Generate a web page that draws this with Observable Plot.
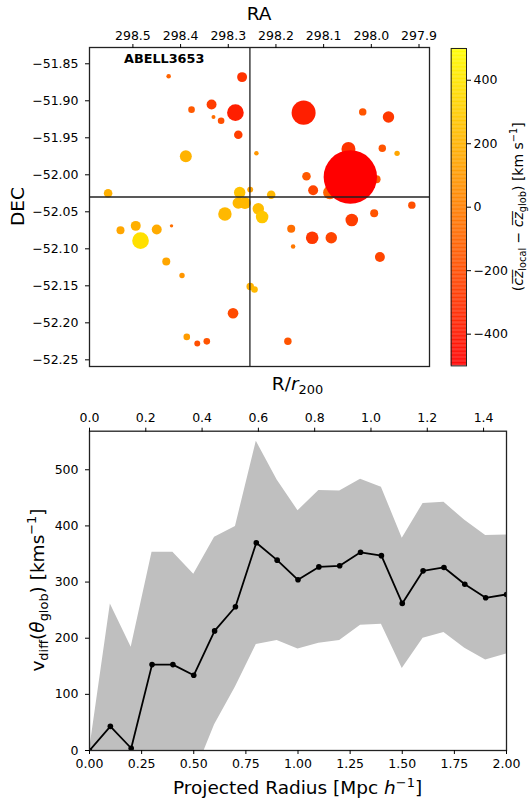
<!DOCTYPE html>
<html><head><meta charset="utf-8">
<script src="https://cdn.jsdelivr.net/npm/d3@7"></script>
<script src="https://cdn.jsdelivr.net/npm/@observablehq/plot@0.6"></script>
<style>
body{margin:0;background:#fff;}
#wrap{position:relative;width:531px;height:800px;font-family:"DejaVu Sans",sans-serif;}
</style></head><body><div id="wrap"></div>
<script>
// ---------- data: top panel (galaxies) ----------
const clusterName = "ABELL3653";
const ra = [298.425, 298.271, 298.335, 298.377, 298.285, 298.331, 298.315, 298.279, 298.389, 298.241,
  298.552, 298.276, 298.254, 298.279, 298.265, 298.142, 298.018, 297.964, 298.048, 297.977,
  297.946, 298.136, 298.122, 298.087, 297.989, 298.044, 298.210, 298.237, 297.915, 298.307,
  298.526, 298.494, 298.484, 298.450, 298.419, 298.430, 298.397, 298.254, 298.245, 298.290,
  298.387, 298.365, 298.345, 298.229, 298.168, 298.164, 298.124, 298.084, 298.041, 297.994,
  297.982, 298.175];
const dec = [-51.867, -51.868, -51.905, -51.912, -51.916, -51.922, -51.927, -51.946, -51.975, -51.971,
  -52.025, -52.024, -52.020, -52.038, -52.038, -51.916, -51.915, -51.922, -51.965, -51.964,
  -51.971, -52.002, -52.021, -52.024, -52.006, -52.003, -52.027, -52.046, -52.041, -52.053,
  -52.075, -52.069, -52.089, -52.074, -52.069, -52.117, -52.136, -52.151, -52.155, -52.187,
  -52.219, -52.228, -52.225, -52.057, -52.073, -52.097, -52.085, -52.085, -52.061, -52.052,
  -52.111, -52.225];
const dvLocal = [-110, -300, -260, -150, -380, -70, -190, -260, 200, 90,
  190, 260, 130, 220, 220, -380, -170, -280, -300, -170,
  150, -150, -230, -110, -150, -500, 220, 240, -190, 220,
  150, 190, 380, 170, -70, 150, 90, 190, 220, -210,
  110, -190, -170, 280, -70, -30, -280, -230, -260, -170,
  -230, -170];
const delta = [0.7, 3.4, 3.4, 1.5, 9.5, 0.55, 1.5, 2.5, 4.9, 0.7,
  2.5, 4.5, 1.2, 4.5, 4.9, 19.8, 1.9, 4.5, 6.7, 1.9,
  1.0, 2.5, 3.4, 6.2, 2.2, 97.8, 2.5, 4.5, 1.9, 6.2,
  2.2, 3.4, 9.5, 3.4, 0.4, 2.2, 1.0, 1.9, 1.5, 3.9,
  1.5, 1.2, 1.5, 5.4, 2.2, 0.7, 5.4, 4.5, 5.4, 2.2,
  3.4, 1.9];
const raCentre = 298.2546, decCentre = -52.030;
const raTicks = [298.5, 298.4, 298.3, 298.2, 298.1, 298.0, 297.9];
const decTicks = [-51.85, -51.90, -51.95, -52.00, -52.05, -52.10, -52.15, -52.20, -52.25];
const cbarTicks = [-400, -200, 0, 200, 400];

// ---------- data: bottom panel ----------
const radius = [0, 0.1, 0.2, 0.3, 0.4, 0.5, 0.6, 0.7, 0.8, 0.9, 1.0, 1.1, 1.2, 1.3, 1.4, 1.5, 1.6, 1.7, 1.8, 1.9, 2.0];
const vdiff = [0, 43, 4, 153, 153, 134, 213, 256, 370, 339, 304, 327, 329, 353, 347, 262, 320, 326, 296, 272, 278];
const vdiffStd = [0, 218, 180, 200, 200, 180, 167, 143, 181, 143, 123, 136, 133, 130, 122, 116, 120, 116, 114, 111, 106];
const r200 = 1.35;
const radiusTicks = [0, 0.25, 0.5, 0.75, 1.0, 1.25, 1.5, 1.75, 2.0];
const r200Ticks = [0, 0.2, 0.4, 0.6, 0.8, 1.0, 1.2, 1.4];
const vTicks = [0, 100, 200, 300, 400, 500];

// ---------- helpers ----------
const FONT = "DejaVu Sans";
const TICK_FS = 12.5;
const wrap = document.getElementById("wrap");
function place(svg, left, top) {
  svg.style.position = "absolute";
  svg.style.left = left + "px";
  svg.style.top = top + "px";
  svg.style.maxWidth = "none";
  d3.select(svg).selectAll("text")
    .style("font-size", TICK_FS + "px")
    .style("font-family", FONT);
  wrap.appendChild(svg);
}
function richText(svg, x, y, parts, {size = 18.5, anchor = "middle", rotate = 0, weight = "normal"} = {}) {
  const t = d3.select(svg).append("text")
    .attr("transform", `translate(${x},${y}) rotate(${rotate})`)
    .attr("text-anchor", anchor)
    .style("font-size", size + "px")
    .style("font-family", FONT).style("font-weight", weight).attr("fill", "black");
  let shift = 0;
  for (const p of parts) {
    const [txt, kind, italic] = Array.isArray(p) ? p : [p, null, false];
    const target = kind === "sub" ? size * 0.24 : kind === "sup" ? -size * 0.4 : 0;
    const ts = t.append("tspan").text(txt).attr("dy", target - shift);
    if (kind) ts.style("font-size", (size * 0.7) + "px");
    if (italic) ts.style("font-style", "italic");
    shift = target;
  }
}
const colorOpts = {type: "linear", domain: [-500, 500], range: ["#ff0000", "#ffff00"], interpolate: "rgb"};
const axisStyle = {fontFamily: FONT, fontSize: TICK_FS + "px", background: "transparent", overflow: "visible", color: "black"};
const tick = {tickSize: 4, label: null};

// ---------- top panel ----------
const galaxies = ra.map((d, i) => ({ra: d, dec: dec[i], dv: dvLocal[i], delta: delta[i]}));
const topChart = Plot.plot({
  width: 440, height: 375, marginLeft: 89, marginRight: 11, marginTop: 47, marginBottom: 9,
  style: axisStyle,
  x: {domain: [298.591, 297.878]},
  y: {domain: [-52.259, -51.828]},
  r: {type: "sqrt", domain: [0, 100], range: [0, 27]},
  color: colorOpts,
  marks: [
    Plot.dot(galaxies, {x: "ra", y: "dec", r: "delta", fill: "dv", sort: null}),
    Plot.ruleX([raCentre], {stroke: "#222", strokeWidth: 1.3}),
    Plot.ruleY([decCentre], {stroke: "#222", strokeWidth: 1.3}),
    Plot.frame({stroke: "#222", strokeWidth: 1.3}),
    Plot.axisX(raTicks, {anchor: "top", tickFormat: d3.format(".1f"), ...tick, tickPadding: 4}),
    Plot.axisY(decTicks, {anchor: "left", tickFormat: d3.format(".2f"), ...tick, tickPadding: 7})
  ]
});
place(topChart, 0, 0);
richText(topChart, 259, 20, ["RA"]);
richText(topChart, 24, 206.5, ["DEC"], {rotate: -90});
richText(topChart, 124, 62.7, [clusterName], {size: 12.8, anchor: "start", weight: "bold"});

// ---------- colour bar ----------
const cbarSteps = d3.range(-500, 500, 2.5);
const cbar = Plot.plot({
  width: 91, height: 375, marginLeft: 10.7, marginRight: 65, marginTop: 48, marginBottom: 9.6,
  style: axisStyle,
  x: {domain: [0, 1], axis: null},
  y: {domain: [-500, 500]},
  color: colorOpts,
  marks: [
    Plot.rect(cbarSteps, {x1: () => 0, x2: () => 1, y1: d => d, y2: d => d + 3, fill: d => d + 1.25}),
    Plot.frame({stroke: "#222", strokeWidth: 1}),
    Plot.axisY(cbarTicks, {anchor: "right", ...tick, tickPadding: 3})
  ]
});
place(cbar, 440, 0);
richText(cbar, 83, 206.7, ["(", ["c\u0305z\u0305", null, true], ["local", "sub"], " \u2212 ", ["c\u0305z\u0305", null, true], ["glob", "sub"], ") [km s", ["\u22121", "sup"], "]"], {size: 14, rotate: -90});

// ---------- bottom panel ----------
const profile = radius.map((r, i) => ({r, v: vdiff[i], s: vdiffStd[i]}));
const bottomChart = Plot.plot({
  width: 531, height: 425, marginLeft: 89, marginRight: 25, marginTop: 55.7, marginBottom: 50,
  style: axisStyle,
  x: {domain: [0, 2]},
  y: {domain: [0, 568.7]},
  marks: [
    Plot.areaY(profile, {x: "r", y1: d => d.v - d.s, y2: d => d.v + d.s, fill: "#bfbfbf", clip: true}),
    Plot.line(profile, {x: "r", y: "v", stroke: "black", strokeWidth: 1.8, clip: true}),
    Plot.dot(profile, {x: "r", y: "v", r: 2.8, fill: "black", clip: true}),
    Plot.frame({stroke: "#222", strokeWidth: 1.3}),
    Plot.axisX(radiusTicks, {anchor: "bottom", tickFormat: d3.format(".2f"), ...tick, tickPadding: 5}),
    Plot.axisX(r200Ticks.map(t => t * r200), {anchor: "top", tickFormat: d => (d / r200).toFixed(1), ...tick, tickPadding: 5}),
    Plot.axisY(vTicks, {anchor: "left", ...tick, tickPadding: 7})
  ]
});
place(bottomChart, 0, 375);
richText(bottomChart, 297.5, 15, ["R/", ["r", null, true], ["200", "sub"]]);
richText(bottomChart, 297.5, 419, ["Projected Radius [Mpc ", ["h", null, true], ["\u22121", "sup"], "]"]);
richText(bottomChart, 43.5, 215, ["v", ["diff", "sub"], "(", ["\u03b8", null, true], ["glob", "sub"], ") [kms", ["\u22121", "sup"], "]"], {rotate: -90});
</script></body></html>
